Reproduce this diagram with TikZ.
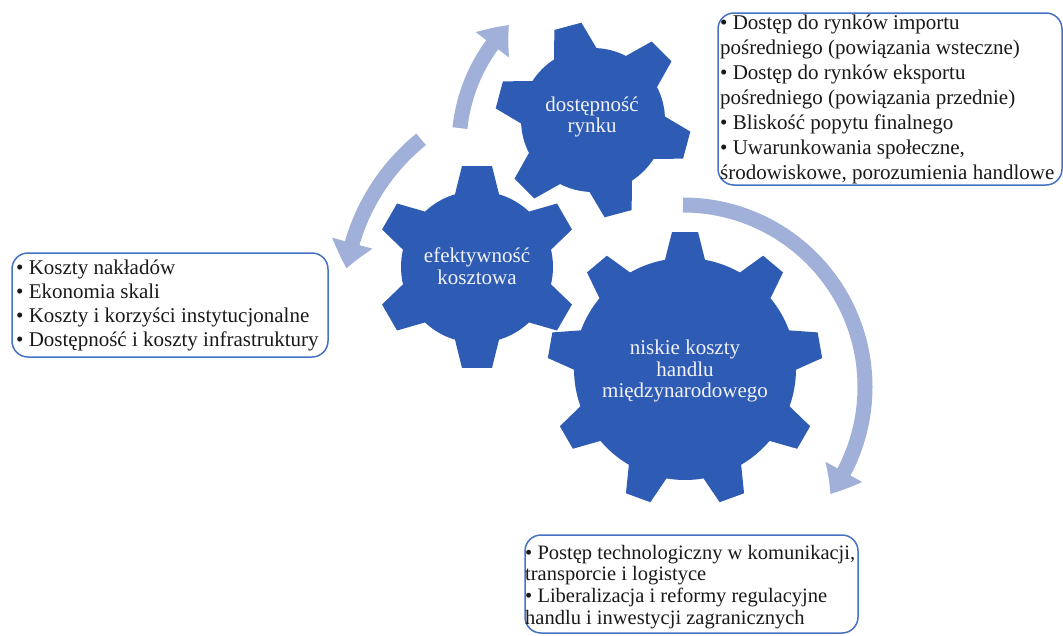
\documentclass[tikz,border=0pt]{standalone}
\usepackage{fontspec}
\setmainfont{Liberation Serif}
\usetikzlibrary{arrows.meta,bending}

\definecolor{gearblue}{RGB}{46,92,181}
\definecolor{arrowblue}{RGB}{161,176,217}
\definecolor{boxblue}{RGB}{70,114,196}
\definecolor{geartext}{RGB}{242,242,246}

% Gear outline: #1 centre, #2 teeth, #3 angle of first tooth,
% #4 body radius, #5 tip radius, #6 half width at base, #7 half width at tip
\newcommand\drawgear[7]{%
  \pgfmathsetmacro\gstep{360/#2}%
  \pgfmathsetmacro\gdb{asin(#6/#4)}%
  \pgfmathsetmacro\gdt{atan(#7/#5)}%
  \pgfmathsetmacro\grt{veclen(#5,#7)}%
  \pgfmathtruncatemacro\glast{#2-1}%
  \begin{scope}[shift={#1}]
    \fill[gearblue] ({#3-\gdb}:#4)
      \foreach \k [evaluate=\k as \a using {#3+\k*\gstep}] in {0,...,\glast} {
        -- ({\a-\gdt}:\grt) -- ({\a+\gdt}:\grt) -- ({\a+\gdb}:#4)
        arc[start angle={\a+\gdb}, end angle={\a+\gstep-\gdb}, radius=#4]
      } -- cycle;
  \end{scope}%
}

\tikzset{
  cycle arrow/.style={draw=arrowblue, line width=15pt,
    -{Triangle[width=40pt,length=26pt,bend]}},
  gear label/.style={text=geartext, align=center,
    font=\fontsize{21}{21.5}\selectfont, inner sep=0pt},
  info box/.style={draw=boxblue, line width=1.5pt, rounded corners=16pt},
  info line/.style={anchor=base west, inner sep=0pt,
    font=\fontsize{21}{25}\selectfont, text=black!90},
  info small/.style={info line, font=\fontsize{20.5}{22}\selectfont}
}

\begin{document}
\begin{tikzpicture}[x=1pt,y=1pt]
\useasboundingbox (0,0) rectangle (1063,-635);

% gear centres
\coordinate (g1) at (593,-120);
\coordinate (g2) at (477,-267);
\coordinate (g3) at (685,-369);

% turning arrows around the gears
\draw[cycle arrow] ([shift={(630,-146)}]174:171) arc[start angle=174, end angle=135, radius=171];
\draw[cycle arrow] ([shift={(552,-301)}]129:208) arc[start angle=129, end angle=171, radius=208];
\draw[cycle arrow] ([shift={(683,-387)}]90:182) arc[start angle=90, end angle=-36, radius=182];

% gears
\drawgear{(g1)}{6}{105}{72}{97}{22}{14}
\drawgear{(g2)}{6}{90}{76}{101}{22}{15}
\drawgear{(g3)}{9}{90}{111}{137}{20}{13}

\node[gear label] (t1) at (592,-117) {dostępność\\rynku};
\node[gear label] (t2) at (477,-266) {efektywność\\kosztowa};
\node[gear label] (t3) at (685,-371) {niskie koszty\\handlu\\międzynarodowego};

% market access factors
\draw[info box] (718,-13) rectangle (1062,-185);
\foreach \txt [count=\i] in {%
  • Dostęp do rynków importu,
  pośredniego (powiązania wsteczne),
  • Dostęp do rynków eksportu,
  pośredniego (powiązania przednie),
  • Bliskość popytu finalnego,
  {• Uwarunkowania społeczne,},
  {środowiskowe, porozumienia handlowe}}
  \node[info line] (a\i) at (720,{-29-25*(\i-1)}) {\txt};

% cost efficiency factors
\draw[info box] (12,-253) rectangle (328,-357);
\foreach \txt [count=\i] in {%
  • Koszty nakładów,
  • Ekonomia skali,
  • Koszty i korzyści instytucjonalne,
  • Dostępność i koszty infrastruktury}
  \node[info line] (b\i) at (16,{-274-24*(\i-1)}) {\txt};

% trade cost factors
\draw[info box] (525,-535) rectangle (858,-633);
\foreach \txt [count=\i] in {%
  {• Postęp technologiczny w komunikacji,},
  transporcie i logistyce,
  • Liberalizacja i reformy regulacyjne,
  handlu i inwestycji zagranicznych}
  \node[info small] (c\i) at (525,{-559-21.7*(\i-1)}) {\txt};
\end{tikzpicture}
\end{document}
